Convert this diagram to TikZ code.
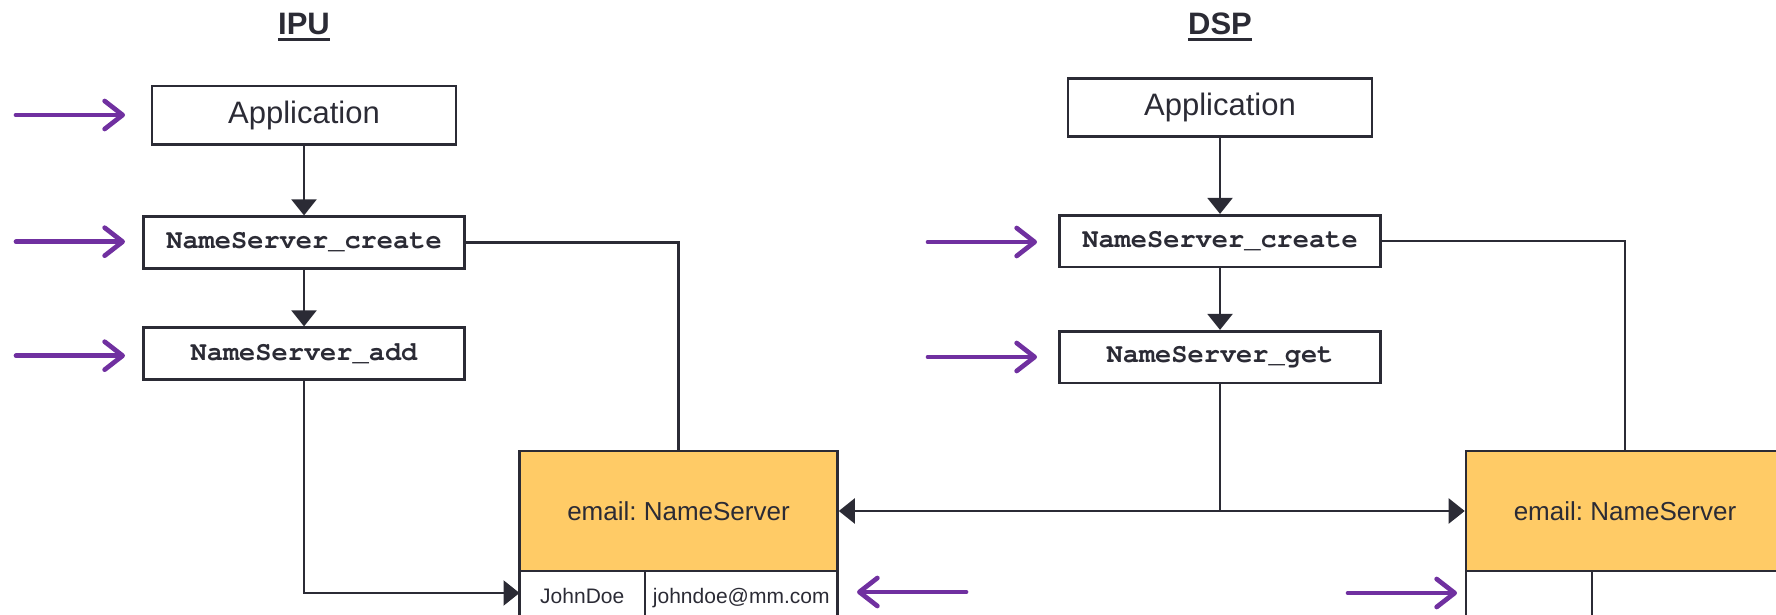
\documentclass[tikz,border=0pt]{standalone}
\usepackage{fontspec}
\setmainfont{Liberation Sans}
\setmonofont{texgyrecursor}[Extension=.otf, UprightFont=*-regular, BoldFont=*-bold]
\usetikzlibrary{arrows.meta}
\frenchspacing
\definecolor{ink}{HTML}{2B2B35}
\definecolor{plum}{HTML}{7030A0}
\definecolor{amber}{HTML}{FFCB66}
\tikzset{
  appbox/.style={draw=ink, line width=2.6pt, text=ink, inner sep=0pt,
    minimum width=304.3pt, minimum height=58.3pt,
    font=\fontsize{31}{36}\selectfont},
  callbox/.style={draw=ink, line width=2.6pt, text=ink, inner sep=0pt,
    minimum width=320.7pt, minimum height=51.6pt,
    font=\ttfamily\bfseries\fontsize{27}{30}\selectfont},
  srvbox/.style={draw=ink, fill=amber, line width=2.6pt, text=ink, inner sep=0pt,
    minimum width=318pt, minimum height=120pt,
    font=\fontsize{26}{30}\selectfont},
  cellbox/.style={draw=ink, line width=2.6pt, text=ink, inner sep=0pt,
    minimum height=50pt, text height=16pt, text depth=2pt,
    font=\fontsize{21}{24}\selectfont},
  heading/.style={text=ink, inner sep=0pt, font=\bfseries\fontsize{31}{36}\selectfont},
  link/.style={draw=ink, line width=2.2pt},
  flow/.style={link, -{Triangle[length=16pt, width=25pt]}},
  cue/.style={draw=plum, line width=4.7pt, line cap=round,
    -{Straight Barb[length=18pt, width=28pt, round]}},
}
\begin{document}
\begin{tikzpicture}[x=1pt, y=-1pt]
\useasboundingbox (0,0) rectangle (1776,615);
\clip (0,0) rectangle (1776,615);

% ---- IPU side ----
\node[heading] (tI) at (304,24) {IPU};
\draw[ink, line width=2.5pt] ([yshift=-5pt]tI.base west) -- ([yshift=-5pt]tI.base east);
\node[appbox]  (appI)    at (304,115.2) {Application};
\node[callbox] (createI) at (304,242.5) {NameServer\_create};
\node[callbox] (addI)    at (304,353.5) {NameServer\_add};

% ---- DSP side ----
\node[heading] (tD) at (1220,24) {DSP};
\draw[ink, line width=2.5pt] ([yshift=-5pt]tD.base west) -- ([yshift=-5pt]tD.base east);
\node[appbox]  (appD)    at (1220,107.5) {Application};
\node[callbox] (createD) at (1220,241) {NameServer\_create};
\node[callbox] (getD)    at (1220,357) {NameServer\_get};

% ---- name server tables ----
\node[cellbox, minimum width=125.5pt] (keyI) at (582.25,596) {JohnDoe};
\node[cellbox, minimum width=192.5pt] (valI) at (741.25,596) {johndoe@mm.com};
\node[srvbox] (nsI) at (678.5,511) {email: NameServer};

\node[cellbox, minimum width=126pt] (keyD) at (1529,596) {};
\node[cellbox, minimum width=192pt] (valD) at (1688,596) {};
\node[srvbox] (nsD) at (1625,511) {email: NameServer};

% ---- connectors ----
\coordinate (inI) at (519.5,593);
\draw[flow] (appI.south) -- (createI.north);
\draw[flow] (createI.south) -- (addI.north);
\draw[link] (createI.east) -| (nsI.north);
\draw[flow] (addI.south) |- (inI);

\draw[flow] (appD.south) -- (createD.north);
\draw[flow] (createD.south) -- (getD.north);
\draw[link] (createD.east) -| (nsD.north);
\draw[flow] (getD.south) |- (nsI.east);
\draw[flow] (getD.south) |- (nsD.west);

% ---- purple markers ----
\coordinate (m1a) at (16,115);    \coordinate (m1b) at (125,115);
\coordinate (m2a) at (16,241.7);  \coordinate (m2b) at (125,241.7);
\coordinate (m3a) at (16,355.7);  \coordinate (m3b) at (125,355.7);
\coordinate (m4a) at (928,242);   \coordinate (m4b) at (1037,242);
\coordinate (m5a) at (928,357);   \coordinate (m5b) at (1037,357);
\coordinate (m6a) at (966,592);   \coordinate (m6b) at (857,592);
\coordinate (m7a) at (1348,593);  \coordinate (m7b) at (1457,593);
\foreach \m in {1,...,7} \draw[cue] (m\m a) -- (m\m b);
\end{tikzpicture}
\end{document}
